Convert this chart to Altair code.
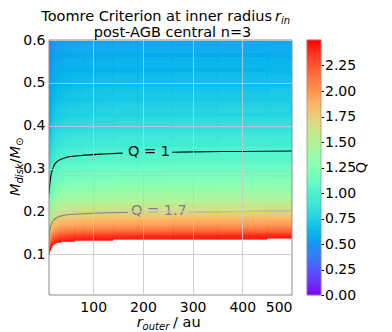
import numpy as np
import pandas as pd
import altair as alt

# ---- data ----
# disk mass (M_sun) of the Q = 1 contour at several outer radii (au)
r_pts = [11, 12, 13, 14, 16, 18, 20, 23, 27, 32, 38, 45, 55, 70, 90, 120, 160, 220, 300, 400, 500]
m_q1 = [0.241, 0.256, 0.268, 0.277, 0.290, 0.298, 0.304, 0.311, 0.316, 0.320, 0.323,
        0.326, 0.328, 0.330, 0.332, 0.334, 0.336, 0.337, 0.339, 0.340, 0.341]
q_levels = [1.0, 1.7]
q_labels = ["Q = 1", "Q = 1.7"]
q_colors = ["black", "#808080"]
label_r = [212, 232]
gap_r = [[159, 259], [170, 292]]
gap_m = [[0.336, 0.338], [0.336, 0.339]]
q_max = 2.5
x_ticks = [100, 200, 300, 400, 500]
y_ticks = [0.1, 0.2, 0.3, 0.4, 0.5, 0.6]
cb_ticks = [0.0, 0.25, 0.5, 0.75, 1.0, 1.25, 1.5, 1.75, 2.0, 2.25]

X_DOM = [11, 500]
Y_DOM = [0.005, 0.6]
W, H = 243, 255
FONT = "DejaVu Sans"

# matplotlib 'rainbow' colormap stops
xs = np.linspace(0, 1, 21)
rr = np.clip(np.abs(2 * xs - 0.5), 0, 1)
gg = np.clip(np.sin(np.pi * xs), 0, 1)
bb = np.clip(np.cos(np.pi * xs / 2), 0, 1)
cmap = ["#%02x%02x%02x" % (int(round(a * 255)), int(round(b * 255)), int(round(c * 255)))
        for a, b, c in zip(rr, gg, bb)]
cdom = list(np.linspace(0, q_max, 21))
cscale = alt.Scale(domain=cdom, range=cmap, interpolate="rgb")

# ---- heatmap cells ----
edges = [r_pts[0]] + [(r_pts[i] + r_pts[i + 1]) / 2 for i in range(len(r_pts) - 1)] + [r_pts[-1]]
step = 0.0025
m_lo_grid = np.arange(Y_DOM[0], Y_DOM[1], step)
rows = []
for i, c in enumerate(m_q1):
    for mlo in m_lo_grid:
        q = c / (mlo + step / 2)
        if q <= q_max:
            rows.append({"r0": edges[i], "r1": edges[i + 1], "m0": mlo, "m1": mlo + step, "Q": q})
heat_df = pd.DataFrame(rows)

xs_scale = alt.Scale(domain=X_DOM, nice=False, zero=False)
ys_scale = alt.Scale(domain=Y_DOM, nice=False, zero=False)
x_axis = alt.Axis(values=x_ticks, format="d", title=None, grid=True, ticks=False,
                  domain=False, labelFontSize=14, labelFont=FONT, labelColor="black",
                  labelPadding=5, gridColor="#c8c8c8", gridOpacity=0.85, zindex=1)
y_axis = alt.Axis(values=y_ticks, format=".1f", title=None, grid=True, ticks=False,
                  domain=False, labelFontSize=14, labelFont=FONT, labelColor="black",
                  labelPadding=4, gridColor="#c8c8c8", gridOpacity=0.85, zindex=1)

heat = alt.Chart(heat_df).mark_rect(strokeWidth=0.6, clip=True).encode(
    x=alt.X("r0:Q", scale=xs_scale, axis=x_axis),
    x2="r1:Q",
    y=alt.Y("m0:Q", scale=ys_scale, axis=y_axis),
    y2="m1:Q",
    color=alt.Color("Q:Q", scale=cscale, legend=None),
    stroke=alt.Stroke("Q:Q", scale=cscale, legend=None),
)

# ---- contour lines (one layer per level, constant colour) ----
line_layers = []
for k, q in enumerate(q_levels):
    g0, g1 = gap_r[k]
    seg_a = [(r, m) for r, m in zip(r_pts, m_q1) if r < g0] + [(g0, gap_m[k][0])]
    seg_b = [(g1, gap_m[k][1])] + [(r, m) for r, m in zip(r_pts, m_q1) if r > g1]
    lrows = []
    for sname, seg in (("a", seg_a), ("b", seg_b)):
        for j, (r, m) in enumerate(seg):
            lrows.append({"r": r, "M": m / q, "seg": sname, "o": j})
    ldf = pd.DataFrame(lrows)
    line_layers.append(
        alt.Chart(ldf).mark_line(strokeWidth=1.1, interpolate="monotone", clip=True,
                                 color=q_colors[k]).encode(
            x=alt.X("r:Q", scale=xs_scale, axis=x_axis),
            y=alt.Y("M:Q", scale=ys_scale, axis=y_axis),
            detail="seg:N",
            order="o:Q",
        )
    )
    lab_df = pd.DataFrame({"r": [label_r[k]], "M": [0.337 / q], "t": [q_labels[k]]})
    line_layers.append(
        alt.Chart(lab_df).mark_text(fontSize=14.5, font=FONT, baseline="middle", dy=-1,
                                    color=q_colors[k]).encode(
            x=alt.X("r:Q", scale=xs_scale, axis=x_axis),
            y=alt.Y("M:Q", scale=ys_scale, axis=y_axis),
            text="t:N",
        )
    )

one = pd.DataFrame({"a": [0]})


def rule(x, x2, y, y2, color, width=1.0):
    return alt.Chart(one).mark_rule(color=color, strokeWidth=width).encode(
        x=alt.value(x), x2=alt.value(x2), y=alt.value(y), y2=alt.value(y2))


FR = "#8c8c8c"
frame = [rule(0, W, 0, 0, FR), rule(0, W, H, H, FR), rule(0, 0, 0, H, FR), rule(W, W, 0, H, FR)]

main = alt.layer(heat, *line_layers, *frame)

# ---- colour bar ----
cb_step = 0.01
cb_lo = np.arange(0, q_max, cb_step)
cb_df = pd.DataFrame({"q0": cb_lo, "q1": cb_lo + cb_step, "q": cb_lo + cb_step / 2})
CBX0, CBX1 = 258, 272
cbar = alt.Chart(cb_df).mark_rect(strokeWidth=0.6).encode(
    x=alt.value(CBX0), x2=alt.value(CBX1),
    y=alt.Y("q0:Q", scale=alt.Scale(domain=[0, q_max], nice=False, zero=False),
            axis=alt.Axis(orient="right", offset=CBX1 - W, values=cb_ticks, format=".2f",
                          title=None, grid=False, domain=False, ticks=True, tickSize=2.5,
                          tickColor="black", labelFontSize=14, labelFont=FONT,
                          labelColor="black", labelPadding=1)),
    y2="q1:Q",
    color=alt.Color("q:Q", scale=cscale, legend=None),
    stroke=alt.Stroke("q:Q", scale=cscale, legend=None),
)
CB = "#9a9a9a"
cborder = [rule(CBX0, CBX1, 0, 0, CB, 0.7), rule(CBX0, CBX1, H, H, CB, 0.7),
           rule(CBX0, CBX0, 0, H, CB, 0.7), rule(CBX1, CBX1, 0, H, CB, 0.7)]


def txt(s, x, y, size=14.5, style="normal", align="left", angle=0, baseline="alphabetic", color="black"):
    return alt.Chart(one).mark_text(
        text=s, fontSize=size, font=FONT, fontStyle=style, align=align, angle=angle,
        baseline=baseline, color=color,
    ).encode(x=alt.value(x), y=alt.value(y))


annots = [
    # title
    txt("Toomre Criterion at inner radius", 223, -19.5, align="right"),
    txt("r", 226, -19.5, style="italic"),
    txt("in", 232, -16.5, size=10, style="italic"),
    txt("post-AGB central n=3", 123.5, -3.5, align="center"),
    # x axis title
    txt("r", 87.7, 286.5, style="italic"),
    txt("outer", 93.6, 289.5, size=10, style="italic"),
    txt("/ au", 124.0, 286.5),
    # y axis title (rotated)
    txt("M", -29.5, 156, style="italic", angle=270),
    txt("disk", -26.5, 143.5, size=10, style="italic", angle=270),
    txt("/", -29.5, 123.4, angle=270),
    txt("M", -29.5, 118.5, style="italic", angle=270),
    txt("⊙", -26.5, 106, size=10, angle=270),
    # colour bar label
    txt("Q", 313, 127.5, align="center", angle=270, baseline="middle"),
]

chart = alt.layer(main, cbar, *cborder, *annots).resolve_scale(y="independent").properties(
    width=W, height=H,
    autosize=alt.AutoSizeParams(type="none"),
    padding={"left": 41, "top": 32, "right": 92, "bottom": 37},
).configure_view(stroke=None)

chart.save("out.html", embed_options={"renderer": "svg", "actions": False})
